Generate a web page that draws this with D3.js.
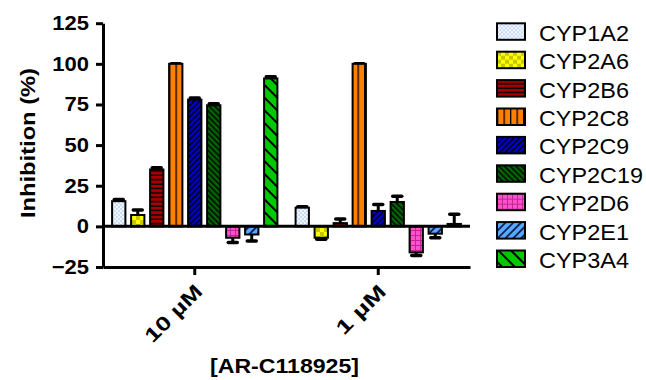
<!DOCTYPE html>
<html>
<head>
<meta charset="utf-8">
<script src="https://cdn.jsdelivr.net/npm/d3@7"></script>
<style>
  body { margin: 0; background: #fff; }
  text { font-family: "Liberation Sans", Arial, sans-serif; }
</style>
</head>
<body>
<div id="chart"></div>
<script>
// data
var groups = ["10 µM", "1 µM"];
var enzymes = ["CYP1A2", "CYP2A6", "CYP2B6", "CYP2C8", "CYP2C9", "CYP2C19", "CYP2D6", "CYP2E1", "CYP3A4"];
var mean10 = [15.5, 7, 35, 100, 78, 74.5, -7, -5, 91];
var err10 = [1, 3, 1, 0, 1, 1, 3, 4, 1];
var mean1 = [11.5, -7, 2, 100, 9.5, 15, -16, -4.5, 1.5];
var err1 = [0.5, 1, 2.5, 0, 4, 3.5, 2, 2.5, 6];
var yTicks = [-25, 0, 25, 50, 75, 100, 125];

var svgWidth = 646;
var svgHeight = 380;

var svg = d3.select("#chart")
    .append("svg")
    .attr("width", svgWidth)
    .attr("height", svgHeight);

var defs = svg.append("defs");

// Fill patterns, one per enzyme
function pattern(id, w, h, bg, draw) {
  var p = defs.append("pattern")
      .attr("id", id)
      .attr("patternUnits", "userSpaceOnUse")
      .attr("width", w)
      .attr("height", h);
  p.append("rect").attr("width", w).attr("height", h).attr("fill", bg);
  draw(p);
}

pattern("p0", 4, 4, "#f2f7ff", function(p) {
  p.append("rect").attr("width", 2).attr("height", 2).attr("fill", "#c8dcf6");
  p.append("rect").attr("x", 2).attr("y", 2).attr("width", 2).attr("height", 2).attr("fill", "#c8dcf6");
});
pattern("p1", 8, 8, "#ffff00", function(p) {
  p.append("rect").attr("width", 4).attr("height", 4).attr("fill", "#c8c800");
  p.append("rect").attr("x", 4).attr("y", 4).attr("width", 4).attr("height", 4).attr("fill", "#c8c800");
});
pattern("p2", 4, 4.4, "#a80000", function(p) {
  p.append("rect").attr("y", 3).attr("width", 4).attr("height", 1.4).attr("fill", "#000");
});
pattern("p3", 6.5, 4, "#ff8000", function(p) {
  p.append("rect").attr("x", 0).attr("width", 1.3).attr("height", 4).attr("fill", "#000");
});
pattern("p4", 4, 4, "#0000c8", function(p) {
  p.attr("patternTransform", "rotate(45)");
  p.append("rect").attr("width", 1.4).attr("height", 4).attr("fill", "#000");
});
pattern("p5", 4, 4, "#006400", function(p) {
  p.attr("patternTransform", "rotate(-45)");
  p.append("rect").attr("width", 1.4).attr("height", 4).attr("fill", "#000");
});
pattern("p6", 5, 5, "#ff50d0", function(p) {
  p.append("rect").attr("width", 5).attr("height", 1).attr("fill", "#c02890");
  p.append("rect").attr("width", 1).attr("height", 5).attr("fill", "#c02890");
});
pattern("p7", 5.5, 5.5, "#55aaff", function(p) {
  p.attr("patternTransform", "rotate(45)");
  p.append("rect").attr("width", 1.8).attr("height", 5.5).attr("fill", "#102050");
});
pattern("p8", 9, 9, "#00c800", function(p) {
  p.attr("patternTransform", "rotate(-45)");
  p.append("rect").attr("width", 2).attr("height", 9).attr("fill", "#000");
});

// scales
var y = d3.scaleLinear().domain([-25, 125]).range([267, 23.2]);
var x0 = d3.scaleBand().domain(groups).range([103, 470]);
var x1 = d3.scaleBand().domain(enzymes).range([0, 171]).paddingInner(0.3).paddingOuter(0.15);
var groupOffset = (x0.bandwidth() - 171) / 2;

var table = [];
groups.forEach(function(g, gi) {
  var m = gi === 0 ? mean10 : mean1;
  var e = gi === 0 ? err10 : err1;
  enzymes.forEach(function(en, i) {
    table.push({group: g, enzyme: en, idx: i, value: m[i], err: e[i]});
  });
});

function barX(d) { return x0(d.group) + groupOffset + x1(d.enzyme); }

// error bars (drawn under the bars, away from zero)
var errG = svg.append("g");
table.forEach(function(d) {
  var cx = barX(d) + x1.bandwidth() / 2;
  var sign = d.value >= 0 ? 1 : -1;
  var yTip = y(d.value + sign * d.err);
  errG.append("line")
      .attr("x1", cx).attr("x2", cx)
      .attr("y1", y(d.value)).attr("y2", yTip)
      .attr("stroke", "#000").attr("stroke-width", 3);
  errG.append("line")
      .attr("x1", cx - 4.5).attr("x2", cx + 4.5)
      .attr("y1", yTip).attr("y2", yTip)
      .attr("stroke", "#000").attr("stroke-width", 3.5)
      .attr("stroke-linecap", "round");
});

// bars
svg.append("g").selectAll("rect")
    .data(table)
    .enter()
    .append("rect")
    .attr("x", barX)
    .attr("y", d => y(Math.max(0, d.value)))
    .attr("width", x1.bandwidth())
    .attr("height", d => Math.abs(y(d.value) - y(0)))
    .attr("fill", d => "url(#p" + d.idx + ")")
    .attr("stroke", "#000")
    .attr("stroke-width", 2);

// zero line
svg.append("line")
    .attr("x1", 103).attr("x2", 470)
    .attr("y1", y(0)).attr("y2", y(0))
    .attr("stroke", "#000").attr("stroke-width", 3);

// axes
var leftAxis = d3.axisLeft(y).tickValues(yTicks).tickSize(7).tickSizeOuter(0).tickPadding(7);
var bottomAxis = d3.axisBottom(x0).tickSize(8).tickSizeOuter(0).tickFormat("");

var yAxisG = svg.append("g")
    .attr("transform", "translate(103,0)")
    .call(leftAxis);
yAxisG.selectAll("path, line").attr("stroke", "#000").attr("stroke-width", 3);
yAxisG.selectAll("text")
    .attr("fill", "#000")
    .style("font-size", "20px")
    .style("font-weight", "bold")
    .style("font-family", "'Liberation Sans', Arial, sans-serif")
    .each(function() {
      var len = this.getComputedTextLength();
      d3.select(this).attr("textLength", len * 1.1).attr("lengthAdjust", "spacingAndGlyphs");
    });

var xAxisG = svg.append("g")
    .attr("transform", "translate(0,267)")
    .call(bottomAxis);
xAxisG.selectAll("path, line").attr("stroke", "#000").attr("stroke-width", 3);

// rotated group labels
var labelLen = {"10 µM": 72, "1 µM": 61};
svg.append("g").selectAll("text")
    .data(groups)
    .enter()
    .append("text")
    .attr("transform", d => "translate(" + (x0(d) + x0.bandwidth() / 2 + 4) + ",288) rotate(-45)")
    .attr("text-anchor", "end")
    .attr("dy", "0.35em")
    .attr("textLength", d => labelLen[d])
    .attr("lengthAdjust", "spacingAndGlyphs")
    .style("font-size", "20px")
    .style("font-weight", "bold")
    .text(d => d);

// axis titles
svg.append("text")
    .attr("transform", "translate(28,143) rotate(-90)")
    .attr("text-anchor", "middle")
    .attr("dy", "0.35em")
    .attr("textLength", 150)
    .attr("lengthAdjust", "spacingAndGlyphs")
    .style("font-size", "20px")
    .style("font-weight", "bold")
    .text("Inhibition (%)");

svg.append("text")
    .attr("x", 284.5)
    .attr("y", 373)
    .attr("text-anchor", "middle")
    .attr("textLength", 149)
    .attr("lengthAdjust", "spacingAndGlyphs")
    .style("font-size", "21px")
    .style("font-weight", "bold")
    .text("[AR-C118925]");

// legend
var legend = svg.append("g").selectAll("g")
    .data(enzymes)
    .enter()
    .append("g")
    .attr("transform", (d, i) => "translate(497," + (23.3 + i * 28.4) + ")");

legend.append("rect")
    .attr("width", 28)
    .attr("height", 16.5)
    .attr("fill", (d, i) => "url(#p" + i + ")")
    .attr("stroke", "#000")
    .attr("stroke-width", 2);

legend.append("text")
    .attr("x", 42)
    .attr("y", 17.5)
    .style("font-size", "22px")
    .attr("textLength", d => d.length === 7 ? 104 : 90)
    .attr("lengthAdjust", "spacingAndGlyphs")
    .text(d => d);
</script>
</body>
</html>
